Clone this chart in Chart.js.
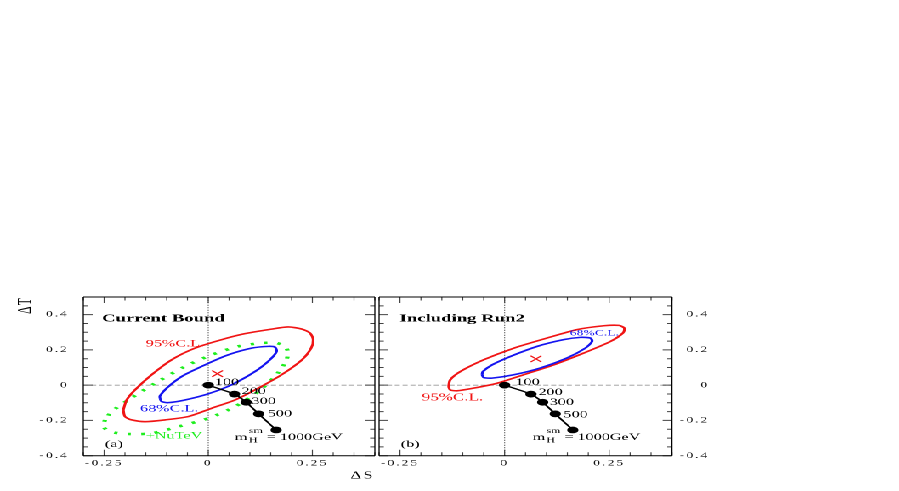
<!DOCTYPE html>
<html>
<head>
<meta charset="UTF-8">
<title>S-T bounds</title>
<script src="https://cdn.jsdelivr.net/npm/chart.js"></script>
<style>
  body { margin: 0; background: #fff; width: 899px; height: 491px; overflow: hidden; }
  /* the original picture is stretched sideways, so the whole stage is too */
  #stage { position: absolute; left: 0; top: 0; width: 529px; height: 491px; transform: scaleX(1.7); transform-origin: 0 0; }
  #stage canvas { position: absolute; top: 280px; }
</style>
</head>
<body>
<div id="stage">
  <canvas id="panelA" width="222" height="211" style="left:0px"></canvas>
  <canvas id="panelB" width="307" height="211" style="left:222px"></canvas>
</div>
<script>
// axis ranges and tick labels
const sRange = [-0.3, 0.4];
const tRange = [-0.4, 0.5];
const sTickLabels = [-0.25, 0, 0.25];
const tTickLabels = [-0.4, -0.2, 0, 0.2, 0.4];

// SM Higgs line
const higgsMass = [100, 200, 300, 500, 1000];
const higgsS = [0, 0.063, 0.091, 0.121, 0.163];
const higgsT = [0, -0.051, -0.097, -0.163, -0.254];

// (a) current bound
const fitA = { s: [0.022], t: [0.065] };
const a95S = [-0.204, -0.200, -0.184, -0.152, -0.104, -0.048, 0.008, 0.064, 0.120, 0.176, 0.225, 0.247, 0.252, 0.244, 0.225, 0.192, 0.152, 0.088, 0.032, -0.032, -0.088, -0.136, -0.176, -0.196, -0.204];
const a95T = [-0.141, -0.178, -0.197, -0.207, -0.197, -0.178, -0.131, -0.084, -0.017, 0.059, 0.144, 0.210, 0.258, 0.296, 0.318, 0.330, 0.318, 0.292, 0.258, 0.210, 0.144, 0.059, -0.027, -0.084, -0.141];
const a68S = [-0.116, -0.112, -0.096, -0.056, 0.000, 0.056, 0.112, 0.148, 0.164, 0.160, 0.144, 0.104, 0.048, -0.008, -0.064, -0.100, -0.116, -0.116];
const a68T = [-0.074, -0.093, -0.099, -0.084, -0.049, 0.002, 0.077, 0.144, 0.191, 0.216, 0.220, 0.210, 0.172, 0.115, 0.049, -0.017, -0.061, -0.074];
const nuTeVS = [-0.248, -0.252, -0.236, -0.192, -0.136, -0.072, 0.000, 0.064, 0.120, 0.160, 0.184, 0.192, 0.184, 0.164, 0.128, 0.072, 0.008, -0.056, -0.128, -0.192, -0.232, -0.248];
const nuTeVT = [-0.197, -0.235, -0.264, -0.277, -0.273, -0.235, -0.188, -0.122, -0.036, 0.049, 0.125, 0.182, 0.220, 0.239, 0.239, 0.220, 0.172, 0.106, 0.011, -0.084, -0.150, -0.197];

// (b) including Run2
const fitB = { s: [0.075], t: [0.149] };
const b95S = [-0.134, -0.130, -0.114, -0.074, -0.018, 0.045, 0.117, 0.189, 0.253, 0.283, 0.286, 0.273, 0.237, 0.173, 0.101, 0.022, -0.050, -0.106, -0.130, -0.134];
const b95T = [-0.008, -0.027, -0.032, -0.017, 0.011, 0.059, 0.115, 0.182, 0.248, 0.296, 0.324, 0.339, 0.337, 0.315, 0.267, 0.210, 0.144, 0.077, 0.030, -0.008];
const b68S = [-0.054, -0.050, -0.030, 0.022, 0.085, 0.149, 0.193, 0.209, 0.205, 0.181, 0.141, 0.078, 0.014, -0.030, -0.052, -0.054];
const b68T = [0.059, 0.043, 0.040, 0.059, 0.097, 0.154, 0.210, 0.248, 0.267, 0.271, 0.258, 0.220, 0.163, 0.115, 0.077, 0.059];

const serif = "'Liberation Serif', 'DejaVu Serif', serif";
const RED = '#f01414', BLUE = '#1414f0', GREEN = '#1eee1e';

const pts = (xs, ys) => xs.map((x, i) => ({ x: x, y: ys[i] }));

function curve(xs, ys, color, width, dash) {
  return {
    data: pts(xs, ys), showLine: true, borderColor: color, borderWidth: width,
    borderDash: dash || [], pointRadius: 0, tension: 0.25, fill: false
  };
}

function higgsLine() {
  return {
    data: pts(higgsS, higgsT), showLine: true, borderColor: '#000', borderWidth: 1.3,
    pointRadius: 2.7, pointBackgroundColor: '#000', pointBorderColor: '#000', tension: 0.2
  };
}

function fitMark(fit) {
  return {
    data: pts(fit.s, fit.t), showLine: false, pointStyle: 'crossRot', pointRadius: 4.5,
    pointBorderColor: RED, pointBorderWidth: 1
  };
}

function refLines() {
  return [
    { data: pts(sRange, [0, 0]), showLine: true, borderColor: '#999', borderWidth: 0.8, borderDash: [3, 1.6], pointRadius: 0 },
    { data: pts([0, 0], tRange), showLine: true, borderColor: '#444', borderWidth: 0.6, borderDash: [1, 1.5], pointRadius: 0 }
  ];
}

function pickLabel(list, v) {
  const hit = list.find(l => Math.abs(l - v) < 1e-6);
  return hit === undefined ? '' : String(hit);
}

// inner tick marks on all four sides plus the frame
const framePlugin = {
  id: 'frame',
  beforeUpdate(chart) { chart.ctx.letterSpacing = '1.2px'; },
  beforeDraw(chart) { chart.ctx.letterSpacing = '1.2px'; },
  afterDatasetsDraw(chart) {
    const { ctx, chartArea: a, scales: { x, y } } = chart;
    ctx.save();
    ctx.strokeStyle = '#444';
    ctx.lineWidth = 0.6;
    x.ticks.forEach(t => {
      const px = x.getPixelForValue(t.value);
      const len = t.label ? 6 : 3.5;
      ctx.beginPath();
      ctx.moveTo(px, a.bottom); ctx.lineTo(px, a.bottom - len);
      ctx.moveTo(px, a.top); ctx.lineTo(px, a.top + len);
      ctx.stroke();
    });
    ctx.lineWidth = 1;
    y.ticks.forEach(t => {
      const py = y.getPixelForValue(t.value);
      const len = t.label ? 5.5 : 2.8;
      ctx.beginPath();
      ctx.moveTo(a.left, py); ctx.lineTo(a.left + len, py);
      ctx.moveTo(a.right, py); ctx.lineTo(a.right - len, py);
      ctx.stroke();
    });
    ctx.strokeStyle = '#000';
    ctx.lineWidth = 1;
    ctx.beginPath();
    ctx.moveTo(a.left, a.top); ctx.lineTo(a.right, a.top);
    ctx.moveTo(a.left, a.bottom); ctx.lineTo(a.right, a.bottom);
    ctx.stroke();
    ctx.lineWidth = 0.65;
    ctx.beginPath();
    ctx.moveTo(a.left, a.top); ctx.lineTo(a.left, a.bottom);
    ctx.moveTo(a.right, a.top); ctx.lineTo(a.right, a.bottom);
    ctx.stroke();
    ctx.restore();
  }
};

function notesPlugin(notes) {
  return {
    id: 'notes',
    afterDatasetsDraw(chart) {
      const { ctx, scales: { x, y } } = chart;
      ctx.save();
      ctx.letterSpacing = '0px';
      ctx.textAlign = 'left';
      ctx.textBaseline = 'alphabetic';
      notes.forEach(n => {
        const px = x.getPixelForValue(n.s);
        const py = y.getPixelForValue(n.t);
        const size = n.size || 9.5;
        ctx.fillStyle = n.color || '#000';
        ctx.font = (n.bold ? 'bold ' : '') + size + 'px ' + serif;
        if (!n.mass) {
          ctx.fillText(n.text, px, py);
          return;
        }
        // m_H^sm = 1000GeV
        ctx.fillText('m', px, py);
        const x1 = px + ctx.measureText('m').width + 0.8;
        ctx.font = '7px ' + serif;
        ctx.fillText('sm', x1, py - 6.6);
        ctx.fillText('H', x1, py + 2.5);
        const x2 = x1 + ctx.measureText('sm').width;
        ctx.font = size + 'px ' + serif;
        ctx.fillText(' = ' + n.mass + 'GeV', x2, py);
      });
      ctx.restore();
    }
  };
}

function panel(id, datasets, notes, side) {
  const left = side === 'left';
  const tickFont = { family: serif, size: 8 };
  return new Chart(document.getElementById(id), {
    type: 'scatter',
    data: { datasets: datasets },
    options: {
      responsive: false,
      animation: false,
      devicePixelRatio: 2,
      events: [],
      layout: {
        autoPadding: false,
        padding: left ? { top: 17, right: 1.5, left: 0, bottom: 0 } : { top: 17, right: 111.7, left: 1, bottom: 0 }
      },
      plugins: { legend: { display: false }, tooltip: { enabled: false } },
      scales: {
        x: {
          type: 'linear', min: sRange[0], max: sRange[1],
          grid: { display: false, drawTicks: false, tickLength: 0 }, border: { display: false },
          afterFit: s => { s.height = 35.3; s.paddingLeft = 0; s.paddingRight = 0; },
          ticks: { stepSize: 0.05, autoSkip: false, maxRotation: 0, minRotation: 0, padding: 2.8, color: '#111', font: tickFont,
                   callback: v => pickLabel(sTickLabels, v) },
          title: { display: left, text: 'ΔS', align: 'end', color: '#000', font: { family: serif, size: 10 }, padding: { top: 0, bottom: 9 } }
        },
        y: {
          type: 'linear', position: left ? 'left' : 'right', min: tRange[0], max: tRange[1],
          grid: { display: false, drawTicks: false, tickLength: 0 }, border: { display: false },
          afterFit: s => { s.width = left ? 49 : 22; s.paddingTop = 0; s.paddingBottom = 0; },
          ticks: { stepSize: 0.05, autoSkip: false, padding: left ? 8.4 : 4, crossAlign: left ? 'near' : 'far', color: '#111', font: tickFont,
                   callback: v => pickLabel(tTickLabels, v) },
          title: { display: left, text: 'ΔT', align: 'end', color: '#000', font: { family: serif, size: 11.5 }, padding: { top: 8, bottom: 0 } }
        }
      }
    },
    plugins: [framePlugin, notesPlugin(notes)]
  });
}

panel('panelA', [
  higgsLine(),
  fitMark(fitA),
  curve(a68S, a68T, BLUE, 1.6),
  curve(a95S, a95T, RED, 1.6),
  curve(nuTeVS, nuTeVT, GREEN, 2.6, [2, 6]),
  ...refLines()
], [
  { text: 'Current Bound', s: -0.255, t: 0.362, bold: true, size: 11 },
  { text: '95%C.L.', s: -0.150, t: 0.220, color: RED },
  { text: '68%C.L.', s: -0.164, t: -0.150, color: BLUE },
  { text: '+NuTeV', s: -0.150, t: -0.303, color: GREEN },
  { text: '(a)', s: -0.248, t: -0.351 },
  { text: String(higgsMass[0]), s: 0.016, t: 0.002 },
  { text: String(higgsMass[1]), s: 0.080, t: -0.049 },
  { text: String(higgsMass[2]), s: 0.104, t: -0.108 },
  { text: String(higgsMass[3]), s: 0.143, t: -0.178 },
  { mass: higgsMass[4], s: 0.064, t: -0.31 }
], 'left');

panel('panelB', [
  higgsLine(),
  fitMark(fitB),
  curve(b68S, b68T, BLUE, 1.6),
  curve(b95S, b95T, RED, 1.6),
  ...refLines()
], [
  { text: 'Including Run2', s: -0.251, t: 0.362, bold: true, size: 11 },
  { text: '68%C.L.', s: 0.156, t: 0.282, color: BLUE, size: 8 },
  { text: '95%C.L.', s: -0.198, t: -0.088, color: RED, size: 10 },
  { text: '(b)', s: -0.248, t: -0.351 },
  { text: String(higgsMass[0]), s: 0.026, t: 0.0 },
  { text: String(higgsMass[1]), s: 0.081, t: -0.055 },
  { text: String(higgsMass[2]), s: 0.108, t: -0.112 },
  { text: String(higgsMass[3]), s: 0.141, t: -0.184 },
  { mass: higgsMass[4], s: 0.067, t: -0.31 }
], 'right');
</script>
</body>
</html>
